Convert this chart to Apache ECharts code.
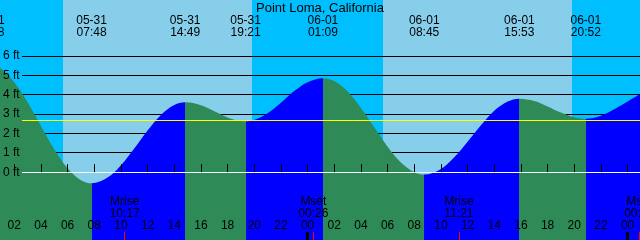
<!DOCTYPE html>
<html><head><meta charset="utf-8">
<script src="https://cdn.jsdelivr.net/npm/echarts@6/dist/echarts.min.js"></script>
<style>html,body{margin:0;padding:0;background:#fff}#c{width:640px;height:240px}</style>
</head><body><div id="c"></div>
<script>
const chartTitle = 'Point Loma, California';

// Tide curve: hours after 05-31 00:00 and height in feet
const tideHours = [0, 1, 2, 3, 4, 5, 6, 7, 7.8, 9, 10, 11, 12, 13, 14, 14.82, 16, 17, 18, 19, 19.35,
  20, 21, 22, 23, 24, 25.15, 26, 27, 28, 29, 30, 31, 32, 32.75, 34, 35, 36, 37, 38, 39, 39.88,
  41, 42, 43, 44, 44.87, 46, 47, 48, 49, 50];
const tideFeet = [5.60, 5.35, 4.65, 3.61, 2.39, 1.19, 0.21, -0.41, -0.57, -0.28, 0.36, 1.23, 2.16, 2.96, 3.47, 3.61,
  3.46, 3.15, 2.83, 2.64, 2.63, 2.70, 3.05, 3.59, 4.19, 4.65, 4.86, 4.71, 4.17, 3.32, 2.32, 1.32, 0.50, 0.00, -0.12,
  0.17, 0.77, 1.57, 2.42, 3.17, 3.65, 3.80, 3.68, 3.40, 3.08, 2.84, 2.76, 2.92, 3.25, 3.65, 4.05, 4.40];

// High / low tide events (labels at top)
const tideEventDates = ['05-31', '05-31', '05-31', '05-31', '06-01', '06-01', '06-01', '06-01'];
const tideEventTimes = ['00:08', '07:48', '14:49', '19:21', '01:09', '08:45', '15:53', '20:52'];
const tideEventKinds = ['high', 'low', 'high', 'low', 'high', 'low', 'high', 'low'];

// Sun
const sunDates = ['05-31', '06-01'];
const sunriseTimes = ['05:39', '05:39'];
const sunsetTimes = ['19:50', '19:50'];

// Moon
const moonKinds = ['Mrise', 'Mset', 'Mrise', 'Mset'];
const moonDates = ['05-31', '06-01', '06-01', '06-02'];
const moonTimes = ['10:17', '00:26', '11:21', '00:52'];

// Axes
const hourTicks = [2, 4, 6, 8, 10, 12, 14, 16, 18, 20, 22, 24, 26, 28, 30, 32, 34, 36, 38, 40, 42, 44, 46, 48];
const dayStartTicks = [0, 24, 48];
const footLabels = [0, 1, 2, 3, 4, 5, 6];
const footLines = [1, 2, 3, 4, 5, 6];
const datumLevel = 0;
const meanLevel = 2.69;
const viewStart = 0.93, viewEnd = 48.93;
const footMin = -3.504, footMax = 8.899;

const dayOffset = { '05-30': -1, '05-31': 0, '06-01': 1, '06-02': 2 };
function toHour(date, time) {
  const p = time.split(':').map(Number);
  return dayOffset[date] * 24 + p[0] + p[1] / 60;
}
const FONT = 'Liberation Sans';
const GREEN = '#2E8B57', BLUE = '#0000FF';

const eventHours = tideEventTimes.map((t, i) => toHour(tideEventDates[i], t));
const pieces = [];
pieces.push({ lt: eventHours[0], color: tideEventKinds[0] === 'high' ? BLUE : GREEN });
for (let i = 0; i < eventHours.length; i++) {
  const col = tideEventKinds[i] === 'high' ? GREEN : BLUE;
  if (i < eventHours.length - 1) pieces.push({ gte: eventHours[i], lt: eventHours[i + 1], color: col });
  else pieces.push({ gte: eventHours[i], color: col });
}
const dayBands = sunDates.map((d, i) => [toHour(d, sunriseTimes[i]), toHour(d, sunsetTimes[i])]);
const moonHours = moonTimes.map((t, i) => toHour(moonDates[i], t));

function hlineSeries(levels, color, z) {
  return {
    type: 'custom', z: z, silent: true,
    data: levels.map(v => [viewStart, v]),
    renderItem: function (params, api) {
      const cs = params.coordSys;
      const y = Math.floor(api.coord([viewStart, api.value(1)])[1]) + 0.5;
      return { type: 'line', shape: { x1: cs.x + 22, y1: y, x2: cs.x + cs.width, y2: y },
        style: { stroke: color, lineWidth: 1 } };
    }
  };
}
function baseX(extra) {
  return Object.assign({
    type: 'value', gridIndex: 0, position: 'bottom', min: viewStart, max: viewEnd,
    axisLine: { show: false }, splitLine: { show: false }, z: 10,
    axisLabel: { show: false }, axisTick: { show: false }
  }, extra);
}

const chart = echarts.init(document.getElementById('c'), null, { renderer: 'canvas' });
chart.setOption({
  animation: false,
  backgroundColor: '#00BFFF',
  title: { text: chartTitle, left: 'center', top: 1.5, padding: 0,
    textStyle: { fontSize: 13, fontWeight: 'normal', color: '#000', fontFamily: FONT } },
  grid: { left: 0, right: 0, top: 0, bottom: 0, containLabel: false, outerBoundsMode: 'none' },
  xAxis: [
    baseX({
      axisTick: { show: true, inside: true, length: 8, customValues: hourTicks, lineStyle: { color: '#000', width: 1 } },
      axisLabel: { show: true, inside: true, margin: 8, customValues: hourTicks, fontSize: 12, fontFamily: FONT, color: '#000',
        formatter: v => String(Math.round(v) % 24).padStart(2, '0') }
    }),
    baseX({ axisTick: { show: true, inside: true, length: 8, customValues: dayStartTicks, lineStyle: { color: '#000', width: 3 } } }),
    baseX({ axisTick: { show: true, inside: true, length: 8, customValues: moonHours, lineStyle: { color: '#FF0000', width: 1 } } })
  ],
  yAxis: {
    type: 'value', min: footMin, max: footMax, z: 10,
    axisLine: { show: false }, axisTick: { show: false }, splitLine: { show: false },
    axisLabel: { inside: true, margin: 3, customValues: footLabels, fontSize: 12, fontFamily: FONT, color: '#000',
      formatter: '{value} ft' }
  },
  visualMap: { type: 'piecewise', show: false, dimension: 0, seriesIndex: 2, pieces: pieces },
  series: [
    {
      type: 'custom', z: 0, silent: true,
      data: dayBands,
      renderItem: function (params, api) {
        const cs = params.coordSys;
        const x1 = api.coord([api.value(0), 0])[0];
        const x2 = api.coord([api.value(1), 0])[0];
        return { type: 'rect', shape: { x: Math.round(x1), y: cs.y, width: Math.round(x2) - Math.round(x1), height: cs.height },
          style: { fill: '#87CEEB' } };
      }
    },
    hlineSeries(footLines, '#000', 1),
    {
      type: 'line', z: 2, smooth: 0.35, symbol: 'none', showSymbol: false,
      data: tideHours.map((h, i) => [h, tideFeet[i]]),
      lineStyle: { width: 0 },
      areaStyle: { opacity: 1, origin: 'start' }
    },
    hlineSeries([datumLevel], '#FFFFFF', 3),
    hlineSeries([meanLevel], '#FFFF00', 3),
    {
      type: 'custom', z: 4, silent: true,
      data: eventHours.map(h => [h, 0]),
      renderItem: function (params, api) {
        const i = params.dataIndex;
        const x = api.coord([api.value(0), 0])[0];
        return { type: 'text', x: x, y: 14,
          style: { text: tideEventDates[i] + '\n' + tideEventTimes[i], fill: '#000', fontSize: 12, fontFamily: FONT,
            align: 'center', verticalAlign: 'top', lineHeight: 12.5 } };
      }
    },
    {
      type: 'custom', z: 4, silent: true,
      data: moonHours.map(h => [h, 0]),
      renderItem: function (params, api) {
        const i = params.dataIndex;
        const x = api.coord([api.value(0), 0])[0];
        return { type: 'text', x: x, y: 195.5,
          style: { text: moonKinds[i] + '\n' + moonTimes[i], fill: '#000', fontSize: 12, fontFamily: FONT,
            align: 'center', verticalAlign: 'top', lineHeight: 12 } };
      }
    }
  ]
});
</script></body></html>
